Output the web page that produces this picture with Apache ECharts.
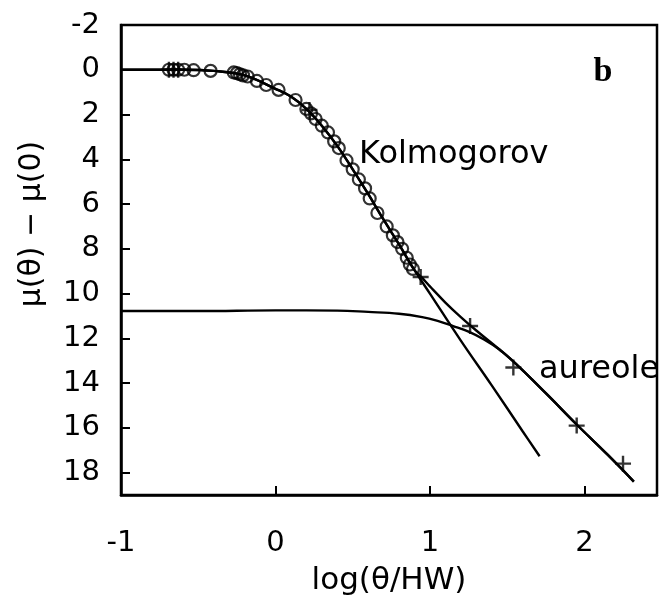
<!DOCTYPE html>
<html>
<head>
<meta charset="utf-8">
<script src="https://cdn.jsdelivr.net/npm/echarts@6/dist/echarts.min.js"></script>
<style>
html,body{margin:0;padding:0;background:#fff;}
#chart{width:659px;height:601px;}
</style>
</head>
<body>
<div id="chart"></div>
<script>
// x = log(theta/HW), y = mu(theta) - mu(0)
const kolmogorovPoints = [
  [-0.69,0],[-0.66,0],[-0.63,0],[-0.59,0],[-0.53,0.02],[-0.42,0.05],
  [-0.27,0.12],[-0.25,0.15],[-0.23,0.2],[-0.21,0.25],[-0.18,0.3],
  [-0.12,0.5],[-0.06,0.68],[0.02,0.9],[0.13,1.35],[0.2,1.75],[0.23,1.95],
  [0.26,2.2],[0.3,2.5],[0.34,2.8],[0.38,3.2],[0.41,3.5],[0.46,4.05],
  [0.5,4.45],[0.54,4.9],[0.58,5.3],[0.61,5.75],[0.66,6.4],[0.72,7.0],
  [0.76,7.4],[0.79,7.7],[0.82,8.0],[0.85,8.4],[0.87,8.7],[0.89,8.9]
];
const aureolePoints = [
  [-0.69,0],[-0.66,0],[-0.63,0],[0.22,1.8],
  [0.94,9.26],[1.26,11.45],[1.54,13.3],[1.95,15.9],[2.25,17.6]
];
const kolmogorovModel = [
  [-1,0],[-0.6,0],[-0.4,0.05],[-0.2,0.25],[0,0.85],[0.1,1.2],[0.2,1.75],
  [0.3,2.5],[0.4,3.4],[0.5,4.45],[0.6,5.55],[0.7,6.7],[0.8,7.8],[0.9,8.95],
  [1.0,10.0],[1.2,12.1],[1.4,14.1],[1.6,16.15],[1.71,17.27]
];
const aureoleModel = [
  [-1,10.78],[-0.5,10.78],[0,10.75],[0.4,10.76],[0.6,10.82],[0.8,10.9],
  [0.95,11.05],[1.05,11.22],[1.15,11.45],[1.25,11.7],[1.35,12.05],
  [1.45,12.5],[1.55,13.1],[1.75,14.45],[1.95,15.85],[2.15,17.2],[2.32,18.4]
];
const combinedModel = [
  [-1,0],[-0.6,0],[-0.4,0.05],[-0.2,0.25],[0,0.85],[0.1,1.2],[0.2,1.75],
  [0.3,2.5],[0.4,3.4],[0.5,4.45],[0.6,5.55],[0.7,6.7],[0.8,7.8],[0.9,8.95],
  [0.95,9.3],[1.0,9.68],[1.1,10.4],[1.2,11.05],[1.3,11.65],[1.45,12.5],
  [1.55,13.1],[1.75,14.45],[1.95,15.85],[2.15,17.2],[2.32,18.4]
];
const xTicks = [-1, 0, 1, 2];
const yTicks = [-2, 0, 2, 4, 6, 8, 10, 12, 14, 16, 18];

const FONT = 'DejaVu Sans';
const chart = echarts.init(document.getElementById('chart'));
const plus = 'path://M0,-10 L0,10 M-10,0 L10,0';
chart.setOption({
  backgroundColor: '#fff',
  animation: false,
  grid: { left: 121, right: 2, top: 25, bottom: 106, show: true,
          containLabel: false, outerBoundsMode: 'none',
          borderColor: '#000', borderWidth: 2.5, backgroundColor: 'transparent' },
  xAxis: {
    type: 'value', min: -1, max: 2.47, interval: 1,
    axisLine: { show: true, onZero: false, lineStyle: { color: '#000', width: 2.5 } },
    axisTick: { show: true, inside: true, length: 9, lineStyle: { color: '#000', width: 2 } },
    axisLabel: { color: '#000', fontFamily: FONT, fontSize: 29, margin: 34,
      formatter: v => xTicks.includes(v) ? String(v) : '' },
    splitLine: { show: false },
    name: 'log(θ/HW)', nameLocation: 'middle', nameGap: 70,
    nameTextStyle: { color: '#000', fontFamily: FONT, fontSize: 31 }
  },
  yAxis: {
    type: 'value', min: -2, max: 19, interval: 2, inverse: true,
    axisLine: { show: true, onZero: false, lineStyle: { color: '#000', width: 2.5 } },
    axisTick: { show: true, inside: true, length: 9, lineStyle: { color: '#000', width: 2 } },
    axisLabel: { color: '#000', fontFamily: FONT, fontSize: 29, margin: 21,
      formatter: v => yTicks.includes(v) ? String(v) : '' },
    splitLine: { show: false }
  },
  graphic: [
    { type: 'text', x: 32, y: 224, rotation: Math.PI / 2,
      style: { text: 'μ(θ) − μ(0)', fill: '#000', font: '30px "DejaVu Sans"',
               textAlign: 'center', textVerticalAlign: 'middle' } },
    { type: 'text', x: 359, y: 155,
      style: { text: 'Kolmogorov', fill: '#000', font: '32px "DejaVu Sans"',
               textAlign: 'left', textVerticalAlign: 'middle' } },
    { type: 'text', x: 539, y: 370,
      style: { text: 'aureole', fill: '#000', font: '32px "DejaVu Sans"',
               textAlign: 'left', textVerticalAlign: 'middle' } },
    { type: 'text', x: 603, y: 72,
      style: { text: 'b', fill: '#000', font: 'bold 34px "Liberation Serif"',
               textAlign: 'center', textVerticalAlign: 'middle' } }
  ],
  series: [
    { type: 'line', data: kolmogorovModel, smooth: 0.4, showSymbol: false,
      lineStyle: { color: '#000', width: 2.4 }, z: 2 },
    { type: 'line', data: combinedModel, smooth: 0.4, showSymbol: false,
      lineStyle: { color: '#000', width: 2.4 }, z: 2 },
    { type: 'line', data: aureoleModel, smooth: 0.4, showSymbol: false,
      lineStyle: { color: '#000', width: 2.4 }, z: 2 },
    { type: 'scatter', data: kolmogorovPoints, symbol: 'circle', symbolSize: 12,
      itemStyle: { color: 'rgba(0,0,0,0)', borderColor: '#000', borderWidth: 2.2 }, z: 3 },
    { type: 'scatter', data: aureolePoints, symbol: plus, symbolSize: 16,
      itemStyle: { color: 'rgba(0,0,0,0)', borderColor: '#000', borderWidth: 2.4 }, z: 3 }
  ]
});
</script>
</body>
</html>
